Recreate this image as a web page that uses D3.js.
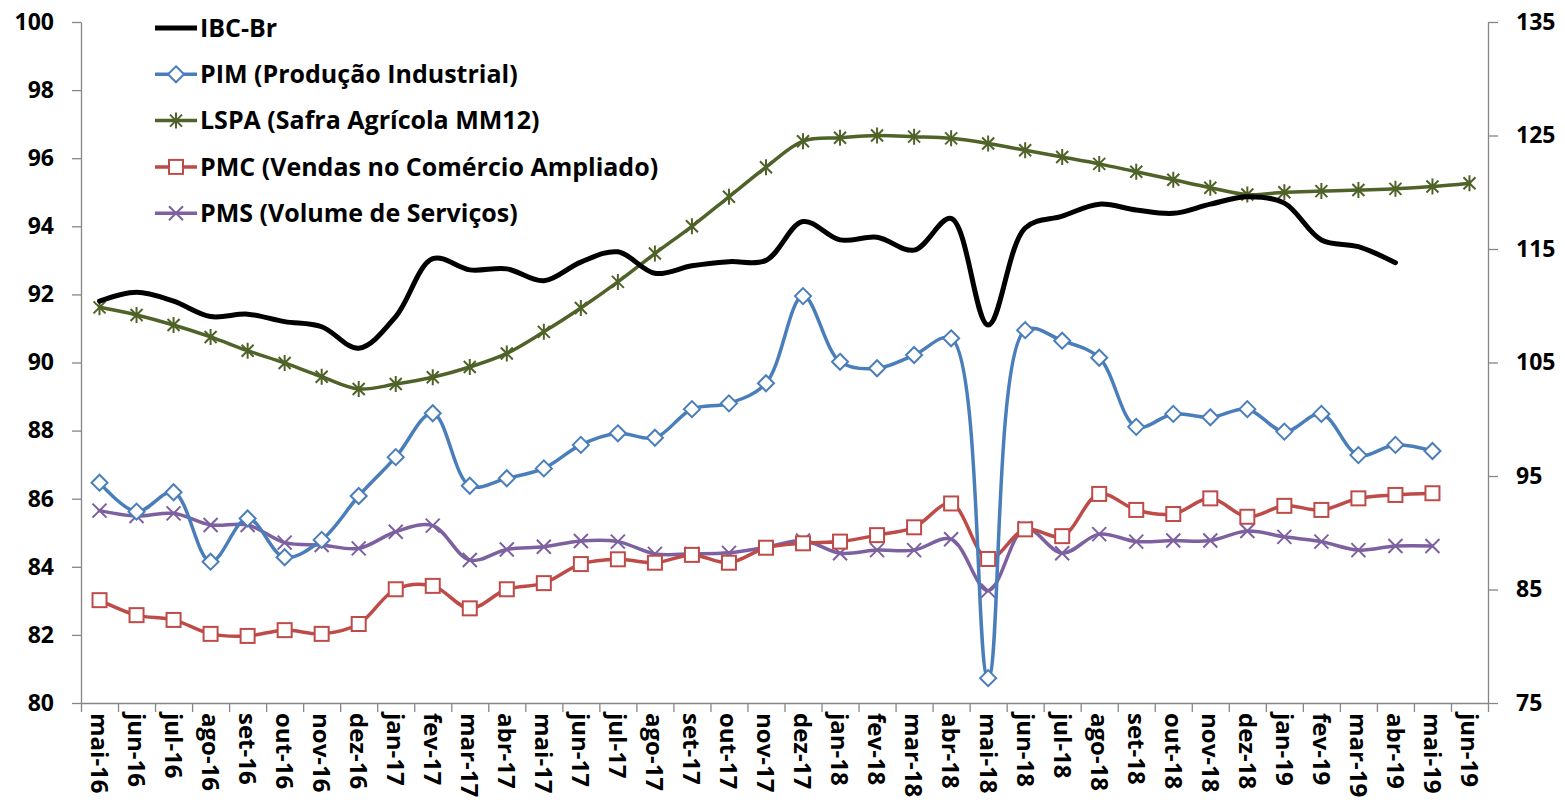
<!DOCTYPE html>
<html>
<head>
<meta charset="utf-8">
<script src="https://cdn.jsdelivr.net/npm/d3@7"></script>
<style>
	body { margin: 0; background: #fff; }
	#chart text { font-family: "Open Sans", Lato, sans-serif; font-weight: bold; fill: #000; }
</style>
</head>
<body>
<div id="chart"></div>
<script>
// Data
const months = [
	"mai-16", "jun-16", "jul-16", "ago-16", "set-16", "out-16", "nov-16", "dez-16",
	"jan-17", "fev-17", "mar-17", "abr-17", "mai-17", "jun-17", "jul-17", "ago-17",
	"set-17", "out-17", "nov-17", "dez-17", "jan-18", "fev-18", "mar-18", "abr-18",
	"mai-18", "jun-18", "jul-18", "ago-18", "set-18", "out-18", "nov-18", "dez-18",
	"jan-19", "fev-19", "mar-19", "abr-19", "mai-19", "jun-19",
];

const ibcBr = [
	91.8, 92.06, 91.8, 91.35, 91.42, 91.2, 91.05, 90.42,
	91.35, 93.05, 92.72, 92.75, 92.4, 92.95, 93.25, 92.62,
	92.84, 92.96, 93.0, 94.14, 93.6, 93.68, 93.3, 94.23,
	91.1, 93.95, 94.3, 94.65, 94.48, 94.38, 94.65, 94.87,
	94.68, 93.6, 93.4, 92.93, null, null,
];

const pim = [
	86.47, 85.62, 86.19, 84.15, 85.42, 84.28, 84.79, 86.08,
	87.22, 88.51, 86.38, 86.6, 86.89, 87.58, 87.92, 87.79,
	88.63, 88.8, 89.39, 91.95, 90.02, 89.83, 90.22, 90.71,
	80.73, 90.95, 90.64, 90.14, 88.11, 88.49, 88.39, 88.63,
	87.97, 88.49, 87.28, 87.58, 87.4, null,
];

// LSPA on the right axis
const lspa = [
	109.86, 109.19, 108.3, 107.25, 106.04, 104.96, 103.75, 102.67,
	103.1, 103.7, 104.6, 105.8, 107.7, 109.8, 112.1, 114.6,
	117.0, 119.6, 122.2, 124.5, 124.8, 125.0, 124.9, 124.75,
	124.3, 123.7, 123.1, 122.5, 121.8, 121.1, 120.4, 119.8,
	120.0, 120.1, 120.2, 120.3, 120.5, 120.8,
];

const pmc = [
	83.02, 82.58, 82.44, 82.03, 81.97, 82.14, 82.03, 82.32,
	83.34, 83.44, 82.78, 83.34, 83.52, 84.08, 84.22, 84.12,
	84.35, 84.12, 84.56, 84.69, 84.74, 84.93, 85.16, 85.86,
	84.23, 85.1, 84.9, 86.14, 85.67, 85.55, 86.01, 85.47,
	85.79, 85.67, 86.01, 86.11, 86.16, null,
];

const pms = [
	85.65, 85.49, 85.57, 85.23, 85.23, 84.71, 84.64, 84.54,
	85.03, 85.21, 84.2, 84.51, 84.59, 84.76, 84.74, 84.38,
	84.38, 84.41, 84.57, 84.77, 84.4, 84.49, 84.49, 84.81,
	83.3, 85.13, 84.4, 84.96, 84.74, 84.77, 84.77, 85.05,
	84.88, 84.74, 84.49, 84.61, 84.61, null,
];

const leftTicks = [80, 82, 84, 86, 88, 90, 92, 94, 96, 98, 100];
const rightTicks = [75, 85, 95, 105, 115, 125, 135];

// Series setup
const series = [
	{ name: "IBC-Br", values: ibcBr, axis: "left", color: "#000000", width: 5, marker: "none" },
	{ name: "PIM (Produção Industrial)", values: pim, axis: "left", color: "#4A7EBB", width: 3.5, marker: "diamond" },
	{ name: "LSPA (Safra Agrícola MM12)", values: lspa, axis: "right", color: "#4F6228", width: 3.5, marker: "star" },
	{ name: "PMC (Vendas no Comércio Ampliado)", values: pmc, axis: "left", color: "#BE4B48", width: 3.5, marker: "square" },
	{ name: "PMS (Volume de Serviços)", values: pms, axis: "left", color: "#7D60A0", width: 3.5, marker: "x" },
];

// Dimensions
const W = 1565, H = 807;
const plot = { left: 81, right: 1488, top: 22, bottom: 703 };

const svg = d3.select("#chart").append("svg").attr("width", W).attr("height", H);

// Scales
const x = d3.scaleBand().domain(months).range([plot.left, plot.right]).paddingInner(0).paddingOuter(0);
const xEdge = d3.scaleLinear().domain([0, months.length]).range([plot.left, plot.right]);
const yLeft = d3.scaleLinear().domain([80, 100]).range([plot.bottom, plot.top]);
const yRight = d3.scaleLinear().domain([75, 135]).range([plot.bottom, plot.top]);
const cx = (i) => x(months[i]) + x.bandwidth() / 2;

const axisColor = "#868686";

function styleAxis(g) {
	g.select(".domain").attr("stroke", axisColor).attr("stroke-width", 1.3);
	g.selectAll(".tick line").attr("stroke", axisColor).attr("stroke-width", 1.3);
}

// Left axis
svg.append("g")
	.attr("transform", `translate(${plot.left},0)`)
	.call(d3.axisLeft(yLeft).tickValues(leftTicks).tickSize(9).tickSizeOuter(0).tickPadding(18))
	.call(styleAxis)
	.call((g) => g.selectAll("text").style("font-size", "23px"));

// Right axis
svg.append("g")
	.attr("transform", `translate(${plot.right},0)`)
	.call(d3.axisRight(yRight).tickValues(rightTicks).tickSize(10).tickSizeOuter(0).tickPadding(18))
	.call(styleAxis)
	.call((g) => g.selectAll("text").style("font-size", "23px"));

// Bottom axis: ticks at category edges
svg.append("g")
	.attr("transform", `translate(0,${plot.bottom})`)
	.call(d3.axisBottom(xEdge).tickValues(d3.range(months.length + 1)).tickFormat("").tickSize(9).tickSizeOuter(0))
	.call(styleAxis);

// Bottom labels, rotated
svg.append("g")
	.attr("transform", `translate(0,${plot.bottom})`)
	.call(d3.axisBottom(x).tickSize(0).tickPadding(0))
	.call((g) => g.select(".domain").remove())
	.call((g) =>
		g.selectAll("text")
			.attr("transform", "rotate(90)")
			.attr("x", 10)
			.attr("y", 0)
			.attr("dy", "0.36em")
			.style("text-anchor", "start")
			.style("font-size", "24px")
	);

// Markers
function drawMarker(sel, type, color) {
	if (type === "diamond") {
		sel.append("path").attr("d", "M0,-8L8,0L0,8L-8,0Z")
			.attr("fill", "#fff").attr("stroke", color).attr("stroke-width", 2);
	} else if (type === "square") {
		sel.append("rect").attr("x", -7).attr("y", -7).attr("width", 14).attr("height", 14)
			.attr("fill", "#fff").attr("stroke", color).attr("stroke-width", 2);
	} else if (type === "x") {
		sel.append("path").attr("d", "M-7,-7L7,7M-7,7L7,-7")
			.attr("stroke", color).attr("stroke-width", 2).attr("fill", "none");
	} else if (type === "star") {
		sel.append("path").attr("d", "M-6,-6L6,6M-6,6L6,-6M0,-8L0,8")
			.attr("stroke", color).attr("stroke-width", 2).attr("fill", "none");
	}
}

const line = d3.line()
	.defined((d) => d.v != null)
	.x((d) => cx(d.i))
	.curve(d3.curveCatmullRom.alpha(0.5));

const linesG = svg.append("g").attr("class", "lines");

// draw in reverse so IBC-Br ends on top like the original
series.slice().reverse().forEach((s) => {
	const yScale = s.axis === "left" ? yLeft : yRight;
	const pts = s.values.map((v, i) => ({ i, v }));
	line.y((d) => yScale(d.v));

	const g = linesG.append("g");
	g.append("path")
		.attr("d", line(pts.filter((d) => d.v != null)))
		.attr("fill", "none")
		.attr("stroke", s.color)
		.attr("stroke-width", s.width)
		.attr("stroke-linejoin", "round")
		.attr("stroke-linecap", "round");

	if (s.marker !== "none") {
		g.selectAll("g.pt")
			.data(pts.filter((d) => d.v != null))
			.enter()
			.append("g")
			.attr("class", "pt")
			.attr("transform", (d) => `translate(${cx(d.i)},${yScale(d.v)})`)
			.each(function () {
				drawMarker(d3.select(this), s.marker, s.color);
			});
	}
});

// Legend
const legend = svg.append("g").attr("transform", "translate(155,28)");
series.forEach((s, i) => {
	const row = legend.append("g").attr("transform", `translate(0,${i * 46.3})`);
	row.append("line")
		.attr("x1", 0).attr("x2", 42).attr("y1", 0).attr("y2", 0)
		.attr("stroke", s.color).attr("stroke-width", s.width);
	if (s.marker !== "none") {
		drawMarker(row.append("g").attr("transform", "translate(21,0)"), s.marker, s.color);
	}
	row.append("text")
		.attr("x", 45)
		.attr("dy", "0.35em")
		.style("font-size", "25px")
		.text(s.name);
});
</script>
</body>
</html>
